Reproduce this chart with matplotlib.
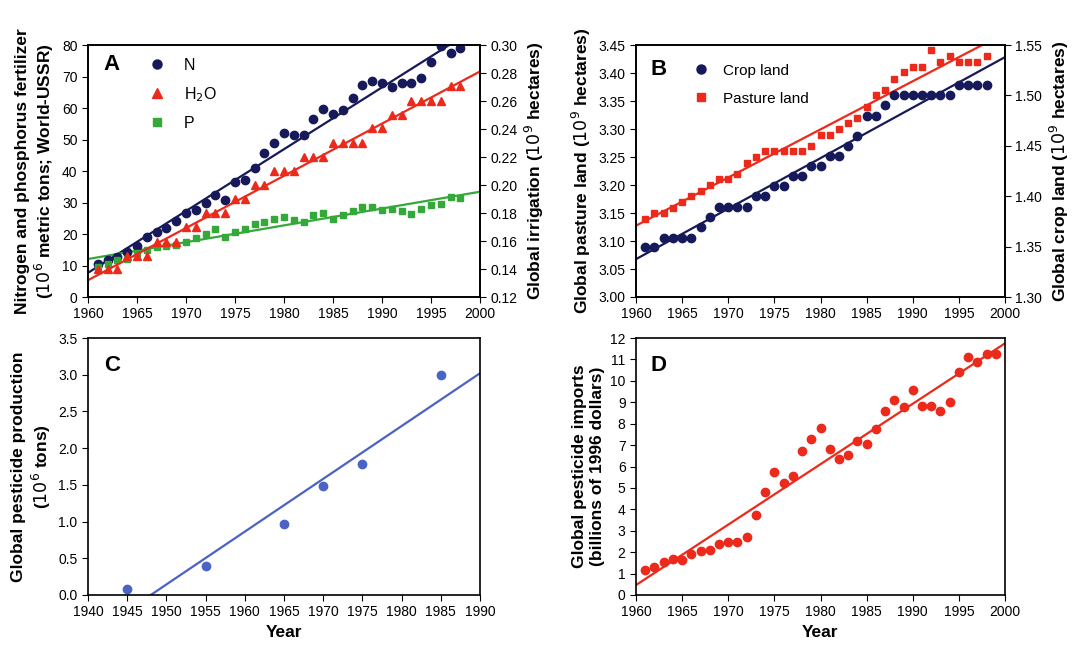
import numpy as np
import matplotlib
matplotlib.use("Agg")
import matplotlib.pyplot as plt

years = np.arange(1961, 1999)

# Panel A
n_fert = [10.6, 11.7, 12.8, 14.4, 16.2, 19.0, 20.5, 22.0, 24.0, 26.6, 27.7, 30.0, 32.4, 30.9,
          36.4, 37.2, 41.0, 45.7, 49.0, 52.0, 51.3, 51.3, 56.6, 59.6, 58.0, 59.4, 63.3, 67.2,
          68.6, 68.0, 66.8, 68.0, 67.8, 69.4, 74.5, 79.6, 77.4, 79.0]
irrig = [0.140, 0.140, 0.140, 0.149, 0.149, 0.149, 0.159, 0.159, 0.159, 0.170, 0.170, 0.180,
         0.180, 0.180, 0.190, 0.190, 0.200, 0.200, 0.210, 0.210, 0.210, 0.220, 0.220, 0.220,
         0.230, 0.230, 0.230, 0.230, 0.241, 0.241, 0.250, 0.250, 0.260, 0.260, 0.260, 0.260,
         0.271, 0.271]
p_fert = [9.4, 10.6, 11.7, 12.2, 14.0, 15.0, 16.0, 16.2, 16.6, 17.6, 18.6, 20.0, 21.6, 19.1,
          20.5, 21.6, 23.2, 23.9, 24.8, 25.5, 24.3, 23.9, 26.0, 26.8, 24.8, 25.9, 27.4, 28.7,
          28.5, 27.7, 28.0, 27.3, 26.3, 28.0, 29.3, 29.6, 31.9, 31.4]

# Panel B
pasture = [3.140, 3.150, 3.150, 3.159, 3.169, 3.180, 3.190, 3.200, 3.210, 3.210, 3.220, 3.239,
           3.250, 3.260, 3.260, 3.260, 3.260, 3.260, 3.270, 3.290, 3.290, 3.300, 3.310, 3.320,
           3.340, 3.360, 3.370, 3.390, 3.401, 3.411, 3.411, 3.441, 3.420, 3.430, 3.420, 3.420,
           3.420, 3.430]
crop = [1.350, 1.350, 1.359, 1.359, 1.359, 1.359, 1.369, 1.379, 1.389, 1.389, 1.389, 1.389,
        1.400, 1.400, 1.410, 1.410, 1.420, 1.420, 1.430, 1.430, 1.440, 1.440, 1.450, 1.460,
        1.480, 1.480, 1.490, 1.500, 1.500, 1.500, 1.500, 1.500, 1.500, 1.500, 1.510, 1.510,
        1.510, 1.510]

# Panel C
c_years = [1945, 1955, 1965, 1970, 1975, 1985]
c_prod = [0.08, 0.40, 0.97, 1.48, 1.79, 3.00]
c_line_x = [1948, 1990]
c_line_y = [0.0, 3.02]

# Panel D
d_years = np.arange(1961, 2000)
d_imports = [1.18, 1.29, 1.54, 1.68, 1.64, 1.93, 2.04, 2.10, 2.36, 2.48, 2.47, 2.72, 3.74, 4.81,
             5.74, 5.24, 5.55, 6.73, 7.28, 7.81, 6.84, 6.37, 6.53, 7.17, 7.03, 7.75, 8.60, 9.10,
             8.76, 9.56, 8.84, 8.84, 8.57, 8.99, 10.42, 11.13, 10.88, 11.26, 11.23]

navy = "#16195a"
red = "#ec2a1c"
green = "#35a83a"
blue = "#4a63c4"

plt.rcParams["font.family"] = "Liberation Sans"
plt.rcParams["font.size"] = 10

fig = plt.figure(figsize=(10.9, 6.45), dpi=100)
W, H = 1090, 645
def box(x0, y0, x1, y1):
    return [x0 / W, 1 - y1 / H, (x1 - x0) / W, (y1 - y0) / H]

lab = dict(fontsize=12.5, fontweight="bold")
xline = np.array([1960, 2000])

def fit(ax, x, y, color, xr):
    k, b = np.polyfit(x, y, 1)
    ax.plot(xr, k * np.array(xr) + b, color=color, lw=1.6, zorder=1)

# A
ax = fig.add_axes(box(88, 45, 480, 297))
ax2 = ax.twinx()
fit(ax, years, n_fert, navy, xline)
fit(ax, years, p_fert, green, xline)
fit(ax2, years, irrig, red, xline)
ax.plot(years, n_fert, "o", color=navy, ms=6, zorder=3)
ax2.plot(years, irrig, "^", color=red, ms=6, zorder=3)
ax.plot(years, p_fert, "s", color=green, ms=5, zorder=3)
ax.set_xlim(1960, 2000); ax.set_ylim(0, 80)
ax2.set_ylim(0.12, 0.30)
ax.set_xticks(range(1960, 2001, 5)); ax.set_yticks(range(0, 81, 10))
ax2.set_yticks(np.arange(0.12, 0.301, 0.02))
ax2.set_yticklabels([f"{v:.2f}" for v in np.arange(0.12, 0.301, 0.02)])
ax.set_ylabel("Nitrogen and phosphorus fertilizer\n($10^6$ metric tons; World-USSR)", **lab)
ax2.set_ylabel("Global irrigation ($10^9$ hectares)", **lab)
ax.text(0.04, 0.9, "A", transform=ax.transAxes, fontsize=16, fontweight="bold")
for i, (m, c, t, ms) in enumerate([("o", navy, "N", 6.5), ("^", red, "H$_2$O", 6.5), ("s", green, "P", 5.5)]):
    yy = 0.9 - i * 0.115
    ax.plot([0.175], [yy + 0.025], m, color=c, ms=ms, transform=ax.transAxes)
    ax.text(0.245, yy, t, transform=ax.transAxes, fontsize=11.5)

# B
bx = fig.add_axes(box(636, 45, 1005, 297))
bx2 = bx.twinx()
fit(bx, years, pasture, red, xline)
fit(bx2, years, crop, navy, xline)
bx.plot(years, pasture, "s", color=red, ms=5, zorder=3)
bx2.plot(years, crop, "o", color=navy, ms=6, zorder=3)
bx.set_xlim(1960, 2000); bx.set_ylim(3.00, 3.45)
bx2.set_ylim(1.30, 1.55)
bx.set_xticks(range(1960, 2001, 5))
bx.set_yticks(np.arange(3.00, 3.451, 0.05))
bx.set_yticklabels([f"{v:.2f}" for v in np.arange(3.00, 3.451, 0.05)])
bx2.set_yticks(np.arange(1.30, 1.551, 0.05))
bx2.set_yticklabels([f"{v:.2f}" for v in np.arange(1.30, 1.551, 0.05)])
bx.set_ylabel("Global pasture land ($10^9$ hectares)", **lab)
bx2.set_ylabel("Global crop land ($10^9$ hectares)", **lab)
bx.text(0.04, 0.88, "B", transform=bx.transAxes, fontsize=16, fontweight="bold")
for i, (m, c, t, ms) in enumerate([("o", navy, "Crop land", 6.5), ("s", red, "Pasture land", 5.5)]):
    yy = 0.88 - i * 0.11
    bx.plot([0.175], [yy + 0.025], m, color=c, ms=ms, transform=bx.transAxes)
    bx.text(0.235, yy, t, transform=bx.transAxes, fontsize=11)

# C
cx = fig.add_axes(box(88, 338, 480, 595))
cx.plot(c_line_x, c_line_y, color=blue, lw=1.6)
cx.plot(c_years, c_prod, "o", color=blue, ms=6)
cx.set_xlim(1940, 1990); cx.set_ylim(0, 3.5)
cx.set_xticks(range(1940, 1991, 5))
cx.set_yticks(np.arange(0, 3.51, 0.5))
cx.set_yticklabels([f"{v:.1f}" for v in np.arange(0, 3.51, 0.5)])
cx.set_ylabel("Global pesticide production\n($10^6$ tons)", **lab)
cx.set_xlabel("Year", **lab)
cx.text(0.04, 0.87, "C", transform=cx.transAxes, fontsize=16, fontweight="bold")

# D
dx = fig.add_axes(box(636, 338, 1005, 595))
fit(dx, d_years, d_imports, red, xline)
dx.plot(d_years, d_imports, "o", color=red, ms=6, zorder=3)
dx.set_xlim(1960, 2000); dx.set_ylim(0, 12)
dx.set_xticks(range(1960, 2001, 5)); dx.set_yticks(range(0, 13))
dx.set_ylabel("Global pesticide imports\n(billions of 1996 dollars)", **lab)
dx.set_xlabel("Year", **lab)
dx.text(0.04, 0.87, "D", transform=dx.transAxes, fontsize=16, fontweight="bold")

for a in (ax, ax2, bx, bx2, cx, dx):
    a.tick_params(direction="out", length=4, labelsize=10)
    for s in a.spines.values():
        s.set_linewidth(1.2)

fig.savefig("out.png", dpi=100)
